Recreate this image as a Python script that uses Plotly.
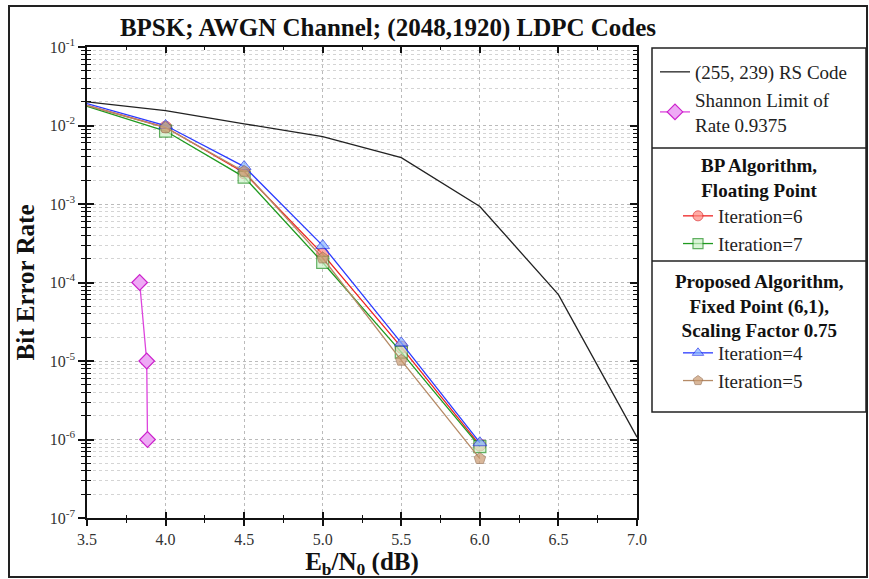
import plotly.graph_objects as go

# ---------------- data ----------------
ebn0 = [3.5, 4.0, 4.5, 5.0, 5.5, 6.0]
rs_x = [3.5, 4.0, 4.5, 5.0, 5.5, 6.0, 6.5, 7.0]
rs_ber = [2.0e-2, 1.55e-2, 1.05e-2, 7.2e-3, 3.9e-3, 9.3e-4, 7.0e-5, 1.07e-6]
shannon_x = [3.835, 3.88, 3.885]
shannon_ber = [1e-4, 1e-5, 1e-6]
bp_it6 = [1.8e-2, 9.5e-3, 2.5e-3, 2.3e-4, 1.5e-5, 8.5e-7]
bp_it7 = [1.75e-2, 8.5e-3, 2.2e-3, 1.8e-4, 1.3e-5, 8.1e-7]
prop_it4 = [1.9e-2, 1.0e-2, 3.0e-3, 2.95e-4, 1.7e-5, 9.1e-7]
prop_it5 = [1.8e-2, 9.4e-3, 2.6e-3, 2.05e-4, 1.02e-5, 5.7e-7]
x_ticks = [3.5, 4.0, 4.5, 5.0, 5.5, 6.0, 6.5, 7.0]
y_tickvals = [1e-1, 1e-2, 1e-3, 1e-4, 1e-5, 1e-6, 1e-7]
y_ticktext = ["10<sup>-1</sup>", "10<sup>-2</sup>", "10<sup>-3</sup>", "10<sup>-4</sup>",
              "10<sup>-5</sup>", "10<sup>-6</sup>", "10<sup>-7</sup>"]

SERIF = "Liberation Serif, Times New Roman, serif"
msize = [0, 12, 12, 12, 12, 12]

# plot area in page pixels
L, R, T, B = 87, 637, 47, 518
def px_x(p):
    return (p - L) / (R - L)
def px_y(p):
    return (B - p) / (B - T)

fig = go.Figure()
fig.add_trace(go.Scatter(x=rs_x, y=rs_ber, mode="lines", name="(255, 239) RS Code",
                         line=dict(color="#222222", width=1.3), legend="legend"))
fig.add_trace(go.Scatter(x=shannon_x, y=shannon_ber, mode="lines+markers",
                         name="Shannon Limit of<br>Rate 0.9375",
                         line=dict(color="#dd44dd", width=1.3),
                         marker=dict(symbol="diamond", size=12, color="#eeaaf5",
                                     line=dict(color="#cc22cc", width=1.2)),
                         legend="legend"))
fig.add_trace(go.Scatter(x=ebn0, y=bp_it6, mode="lines+markers", name="Iteration=6",
                         line=dict(color="#ee2222", width=1.3),
                         marker=dict(symbol="circle", size=msize, color="#ff8a80",
                                     line=dict(color="#dd2222", width=1)),
                         legend="legend2"))
fig.add_trace(go.Scatter(x=ebn0, y=bp_it7, mode="lines+markers", name="Iteration=7",
                         line=dict(color="#1f9a1f", width=1.3),
                         marker=dict(symbol="square", size=msize, color="#cdf2c8",
                                     line=dict(color="#1f8f1f", width=1.2)),
                         legend="legend2"))
fig.add_trace(go.Scatter(x=ebn0, y=prop_it4, mode="lines+markers", name="Iteration=4",
                         line=dict(color="#2b3bff", width=1.3),
                         marker=dict(symbol="triangle-up", size=msize, color="#86b4ff",
                                     line=dict(color="#2233ee", width=1)),
                         legend="legend3"))
fig.add_trace(go.Scatter(x=ebn0, y=prop_it5, mode="lines+markers", name="Iteration=5",
                         line=dict(color="#b58a66", width=1.3),
                         marker=dict(symbol="pentagon", size=msize, color="#c99a70",
                                     line=dict(color="#9a7050", width=1)),
                         legend="legend3"))
# overlay axes carrying the inside ticks
fig.add_trace(go.Scatter(x=[None], y=[None], xaxis="x2", yaxis="y2",
                         showlegend=False, hoverinfo="skip"))

LEG_FONT = dict(family=SERIF, size=19, color="#222")

fig.update_layout(
    width=869, height=579,
    margin=dict(l=L, r=869 - R, t=T, b=579 - B, autoexpand=False),
    paper_bgcolor="white", plot_bgcolor="white",
    font=dict(family=SERIF, color="#111111"),
    title=dict(text="<b>BPSK; AWGN Channel; (2048,1920) LDPC Codes</b>",
               font=dict(family=SERIF, size=25, color="#111111"),
               x=388 / 869, xanchor="center", y=1 - 27 / 579, yanchor="middle"),
    xaxis=dict(range=[3.5, 7.0], tickvals=x_ticks, tickformat=".1f",
               ticks="outside", ticklen=6, tickwidth=1.5, tickcolor="#111",
               showline=True, linecolor="#111", linewidth=1.5,
               showgrid=True, gridcolor="#bbbbbb", griddash="dot", gridwidth=1,
               minor=dict(dtick=0.25, ticks="outside", ticklen=3, tickwidth=1.3,
                          tickcolor="#111", showgrid=False),
               tickfont=dict(family=SERIF, size=16, color="#333"),
               title=dict(text="<b>E<sub>b</sub>/N<sub>0</sub> (dB)</b>", standoff=0,
                          font=dict(family=SERIF, size=25, color="#111")),
               zeroline=False),
    yaxis=dict(type="log", range=[-7, -1], tickvals=y_tickvals, ticktext=y_ticktext,
               ticks="outside", ticklen=7, tickwidth=1.5, tickcolor="#111",
               showline=True, linecolor="#111", linewidth=1.5,
               showgrid=True, gridcolor="#bbbbbb", griddash="dot", gridwidth=1,
               minor=dict(dtick="D1", ticks="outside", ticklen=4, tickwidth=1.3,
                          tickcolor="#111", showgrid=True, gridcolor="#d4d4d4",
                          griddash="dot", gridwidth=1),
               tickfont=dict(family=SERIF, size=16, color="#333"),
               title=dict(text="<b>Bit Error Rate</b>", standoff=8,
                          font=dict(family=SERIF, size=25, color="#111")),
               zeroline=False),
    xaxis2=dict(overlaying="x", range=[3.5, 7.0], tickvals=x_ticks, showticklabels=False,
                ticks="inside", ticklen=6, tickwidth=1.5, tickcolor="#111",
                mirror="allticks", showline=True, linecolor="#111", linewidth=1.5,
                showgrid=False, zeroline=False,
                minor=dict(dtick=0.25, ticks="inside", ticklen=3, tickwidth=1.3,
                           tickcolor="#111")),
    yaxis2=dict(overlaying="y", type="log", range=[-7, -1], tickvals=y_tickvals,
                showticklabels=False, ticks="inside", ticklen=7, tickwidth=1.5,
                tickcolor="#111", mirror="allticks", showline=True, linecolor="#111",
                linewidth=1.5, showgrid=False, zeroline=False,
                minor=dict(dtick="D1", ticks="inside", ticklen=4, tickwidth=1.3,
                           tickcolor="#111", showgrid=False)),
    legend=dict(x=px_x(655), xanchor="left", y=px_y(53), yanchor="top",
                bgcolor="rgba(0,0,0,0)", borderwidth=0, font=LEG_FONT,
                tracegroupgap=0, itemwidth=30),
    legend2=dict(x=px_x(678), xanchor="left", y=px_y(197), yanchor="top",
                 bgcolor="rgba(0,0,0,0)", borderwidth=0, font=LEG_FONT, itemwidth=30),
    legend3=dict(x=px_x(678), xanchor="left", y=px_y(334), yanchor="top",
                 bgcolor="rgba(0,0,0,0)", borderwidth=0, font=LEG_FONT, itemwidth=30),
    annotations=[
        dict(text="<b>BP Algorithm,<br>Floating Point</b>", xref="paper", yref="paper",
             x=px_x(759), y=px_y(178), xanchor="center", yanchor="middle",
             showarrow=False, font=dict(family=SERIF, size=19, color="#111")),
        dict(text="<b>Proposed Algorithm,<br>Fixed Point (6,1),<br>Scaling Factor 0.75</b>",
             xref="paper", yref="paper", x=px_x(759), y=px_y(306),
             xanchor="center", yanchor="middle", showarrow=False,
             font=dict(family=SERIF, size=19, color="#111")),
    ],
    shapes=[
        # outer frame
        dict(type="rect", xref="paper", yref="paper", x0=px_x(9), x1=px_x(867),
             y0=px_y(577), y1=px_y(6), line=dict(color="#222", width=2)),
        # legend box
        dict(type="rect", xref="paper", yref="paper", x0=px_x(652), x1=px_x(866),
             y0=px_y(412), y1=px_y(48), line=dict(color="#222", width=1.5)),
        dict(type="line", xref="paper", yref="paper", x0=px_x(652), x1=px_x(866),
             y0=px_y(148), y1=px_y(148), line=dict(color="#222", width=1.5)),
        dict(type="line", xref="paper", yref="paper", x0=px_x(652), x1=px_x(866),
             y0=px_y(261), y1=px_y(261), line=dict(color="#222", width=1.5)),
    ],
    showlegend=True,
)

fig.write_html("out.html", config={"displayModeBar": False},
               post_script="document.body.style.margin='0';document.body.style.overflow='hidden';")
